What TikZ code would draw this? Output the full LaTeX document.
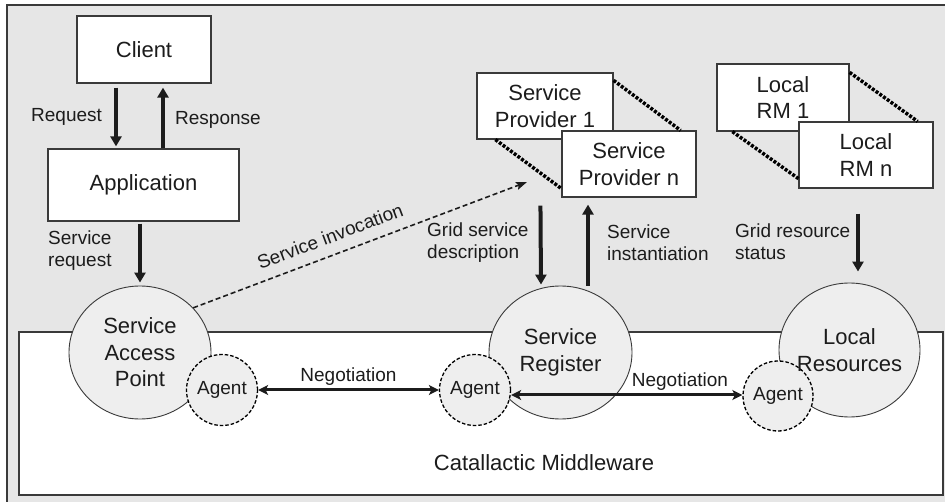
\documentclass[tikz,border=0pt]{standalone}
\usepackage{fontspec}
\setmainfont{Liberation Sans}
\usetikzlibrary{arrows.meta,shapes.geometric,calc}
\definecolor{bggray}{HTML}{E6E6E6}
\definecolor{fillgray}{HTML}{EEEEEE}
\definecolor{linegray}{HTML}{3A3A3A}
\definecolor{txt}{HTML}{1C1C1C}
\begin{document}
\begin{tikzpicture}[x=1pt,y=-1pt,
  big/.style={font=\fontsize{22}{26.5}\selectfont, text=txt},
  small/.style={font=\fontsize{19}{22}\selectfont, text=txt},
  box/.style={big, draw=linegray, line width=1.2pt, fill=white, rectangle, align=center, inner sep=0pt},
  comp/.style={big, ellipse, draw=linegray, line width=0.9pt, fill=fillgray, align=center, inner sep=-6pt},
  agent/.style={small, circle, draw=black, line width=1.3pt, fill=fillgray, inner sep=0pt, minimum size=71pt, dash pattern=on 3.5pt off 2pt},
  lbl/.style={small, inner sep=0pt, align=left},
  bigarrow/.style={line width=4pt, draw=txt, -{Triangle[width=11pt,length=10pt]}},
  negarrow/.style={line width=3pt, draw=txt, {Stealth[length=10pt,width=10pt,inset=2.5pt]}-{Stealth[length=10pt,width=10pt,inset=2.5pt]}},
  invarrow/.style={line width=1.6pt, draw=txt, dash pattern=on 5pt off 3pt, -{Stealth[length=11pt,width=8pt,inset=2pt]}},
  linkdots/.style={line width=3.5pt, draw=black, dash pattern=on 3pt off 1.6pt},
]
\useasboundingbox (0,0) rectangle (945,502);
\clip (0,0) rectangle (945,502);
% outer frame
\fill[bggray] (7,5) rectangle (950,510);
\draw[linegray, line width=1.2pt] (7,510) -- (7,5) -- (950,5);
% middleware box
\draw[linegray, line width=1.2pt, fill=white] (19,332) rectangle (943,495);
\node[big] (cm) at (544,463) {Catallactic Middleware};

% top boxes
\node[box, minimum width=134pt, minimum height=67pt] (client) at (144,49.5) {Client};
\node[box, minimum width=191pt, minimum height=72pt] (app) at (143.5,185) {Application};
\node[box, minimum width=136pt, minimum height=66pt] (sp1) at (545,106) {Service\\Provider 1};
\node[box, minimum width=134pt, minimum height=66pt] (spn) at (629,164) {Service\\Provider n};
\node[box, minimum width=132pt, minimum height=67pt] (rm1) at (783,97.5) {Local\\[-1pt]RM 1};
\node[box, minimum width=134pt, minimum height=66pt] (rmn) at (866,155) {Local\\RM n};

\draw[linkdots] ([yshift=-8pt]sp1.north east) -- ([xshift=-16pt]spn.north east);
\draw[linkdots] ([xshift=19pt]sp1.south west) -- ([yshift=9pt]spn.south west);
\draw[linkdots] ([yshift=-9pt]rm1.north east) -- ([xshift=-16pt]rmn.north east);
\draw[linkdots] ([xshift=16pt]rm1.south west) -- ([yshift=10pt]rmn.south west);

% components
\node[comp, minimum width=142pt, minimum height=133pt] (sap) at (140,352.5) {Service\\Access\\Point};
\node[comp, minimum width=143pt, minimum height=133pt] (sr) at (560.5,352.5) {Service\\Register};
\node[comp, minimum width=141pt, minimum height=134pt] (lr) at (849.5,350) {};
\node[agent] (sapagent) at (222,390) {Agent};
\node[agent] (sragent) at (475,390) {Agent};
\node[agent, minimum size=70pt] (lragent) at (778,396) {Agent};
\node[big, align=center, inner sep=0pt] (lrtext) at (lr.center) {Local\\Resources};

% arrows
\draw[bigarrow, shorten <=4pt, shorten >=2pt] ([xshift=-28pt]client.south) -- ([xshift=-27.5pt]app.north);
\draw[bigarrow, shorten >=4pt] ([xshift=19.5pt]app.north) -- ([xshift=19pt]client.south);
\draw[bigarrow, shorten <=2pt, shorten >=3pt] ([xshift=-3.5pt]app.south) -- (sap.north);
\draw[bigarrow, shorten <=8pt, shorten >=1pt] ([xshift=-21pt]spn.south west) -- ([xshift=-19.5pt]sr.north);
\draw[bigarrow, shorten >=7pt] ([xshift=27.5pt]sr.north) -- ([xshift=-41pt]spn.south);
\draw[bigarrow, shorten <=25pt, shorten >=11pt] ([xshift=-8pt]rmn.south) -- ([xshift=8.5pt]lr.north);

\coordinate (invtip) at (527,182);
\draw[invarrow] (sap.40) -- node[small, sloped, above=11pt, pos=0.43, inner sep=0pt] (invlbl) {Service invocation} (invtip);

\draw[negarrow] (sapagent.east) -- node[small, above=3pt, inner sep=0pt] (neg1) {Negotiation} (sragent.west);
\draw[negarrow] ([yshift=-5pt]sragent.east) -- node[small, above=3pt, inner sep=0pt, pos=0.73] (neg2) {Negotiation} ([yshift=1pt]lragent.west);

% labels
\node[lbl, anchor=base west] (lreq) at (31,122) {Request};
\node[lbl, anchor=base west] (lresp) at (175,125) {Response};
\node[lbl, anchor=west] (lsreq) at (48,251) {Service\\request};
\node[lbl, anchor=west] (lgsd) at (427,243) {Grid service\\description};
\node[lbl, anchor=west] (lsi) at (607,243) {Service\\instantiation};
\node[lbl, anchor=west] (lgrs) at (735,242) {Grid resource\\status};
\end{tikzpicture}
\end{document}
